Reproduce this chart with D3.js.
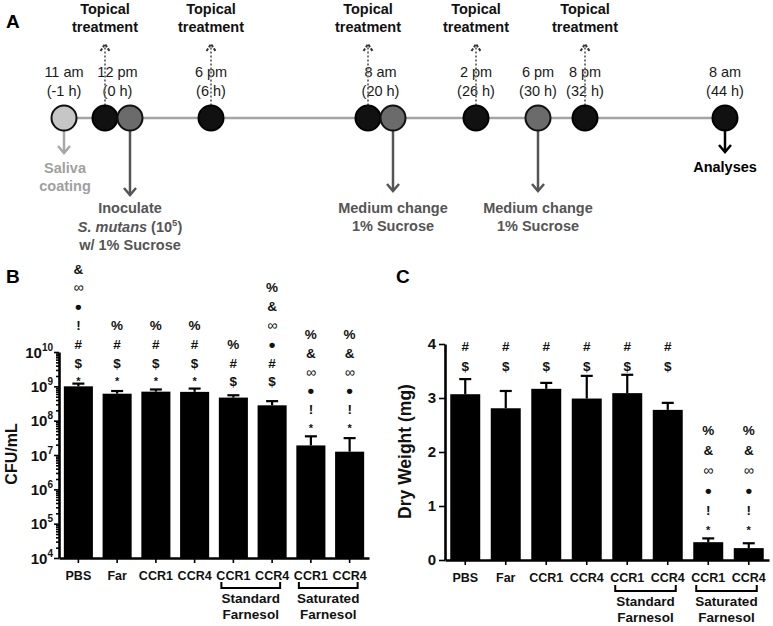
<!DOCTYPE html>
<html><head><meta charset="utf-8">
<script src="https://cdn.jsdelivr.net/npm/d3@7"></script>
<style>
body{margin:0;background:#fff}
svg{display:block}
text{font-family:"Liberation Sans",Arial,Helvetica,sans-serif}
</style>
</head><body>
<svg id="chart" width="773" height="626"></svg>
<script>
// ---------------- DATA ----------------
const categories = ["PBS","Far","CCR1","CCR4","CCR1","CCR4","CCR1","CCR4"];
const groupLabels = [["Standard","Farnesol"],["Saturated","Farnesol"]];
const groupMembers = [[4,5],[6,7]];

const cfuMean = [1.0e9, 6.1e8, 7.0e8, 6.9e8, 4.7e8, 2.8e8, 1.9e7, 1.25e7];
const cfuUpper = [1.2e9, 7.3e8, 8.1e8, 8.6e8, 5.5e8, 3.7e8, 3.5e7, 3.1e7];
const cfuTicks = [1e4,1e5,1e6,1e7,1e8,1e9,1e10];

const dryMean = [3.07, 2.81, 3.17, 2.99, 3.09, 2.78, 0.33, 0.22];
const dryUpper = [3.35, 3.13, 3.28, 3.41, 3.43, 2.91, 0.40, 0.31];
const dryTicks = [0,1,2,3,4];

// significance symbols, listed bottom-up
const cfuMarks = [
  ["*","$","#","!","•","∞","&"],
  ["*","$","#","%"],
  ["*","$","#","%"],
  ["*","$","#","%"],
  ["$","#","%"],
  ["$","#","•","∞","&","%"],
  ["*","!","•","∞","&","%"],
  ["*","!","•","∞","&","%"]
];
const cfuMarkBase = [1e9,1e9,1e9,1e9,1e9,1e9,4.4e7,4.4e7];
const dryMarks = [
  ["$","#"],["$","#"],["$","#"],["$","#"],["$","#"],["$","#"],
  ["*","!","•","∞","&","%"],
  ["*","!","•","∞","&","%"]
];
const dryMarkBase = [3.5,3.5,3.5,3.5,3.5,3.5,0.46,0.46];

// timeline (schematic)
const timeHours   = [-1, 0, 6, 20, 26, 30, 32, 44];
const clockLabels = ["11 am","12 pm","6 pm","8 am","2 pm","6 pm","8 pm","8 am"];
const relLabels   = ["(-1 h)","(0 h)","(6 h)","(20 h)","(26 h)","(30 h)","(32 h)","(44 h)"];
const timelineX   = [64, 105, 211, 368, 476, 538, 585, 725];
const treatmentHours = [0, 6, 20, 26, 32];
const salivaHours = [-1];
const mediumHours = [0, 20, 30];     // grey circles (medium / inoculation)
const analysisHours = [44];

// ---------------- DRAW ----------------
const svg = d3.select("#chart");
const FONT = '"Liberation Sans",Arial,sans-serif';

// ===== Panel A =====
const tx = d3.scaleLinear().domain(timeHours).range(timelineX);
const R = 12.5, lineY = 118;
const pairHours = mediumHours.filter(h => treatmentHours.includes(h) || analysisHours.includes(h));
const gx = h => tx(h) + (pairHours.includes(h) ? 2*R : 0);  // grey circle x
const lx = h => tx(h) + (pairHours.includes(h) ? R : 0);     // label x

const A = svg.append("g");
A.append("text").attr("x",6).attr("y",28).attr("font-size",19).attr("font-weight","bold").text("A");

A.append("line").attr("x1",tx(timeHours[0])).attr("x2",tx(timeHours[timeHours.length-1]))
  .attr("y1",lineY).attr("y2",lineY).attr("stroke","#a4a4a4").attr("stroke-width",2.3);

// time labels
timeHours.forEach((h,i)=>{
  A.append("text").attr("x",lx(h)).attr("y",77).attr("text-anchor","middle")
    .attr("font-size",14.5).attr("fill","#1a1a1a").text(clockLabels[i]);
  A.append("text").attr("x",lx(h)).attr("y",95.5).attr("text-anchor","middle")
    .attr("font-size",14.5).attr("fill","#1a1a1a").text(relLabels[i]);
});

// topical treatment dotted arrows
treatmentHours.forEach(h=>{
  const x = tx(h);
  A.append("text").attr("x",x).attr("y",13.5).attr("text-anchor","middle")
    .attr("font-size",14.5).attr("font-weight","bold").attr("fill","#111").text("Topical");
  A.append("text").attr("x",x).attr("y",32).attr("text-anchor","middle")
    .attr("font-size",14.5).attr("font-weight","bold").attr("fill","#111").text("treatment");
  A.append("line").attr("x1",x).attr("x2",x).attr("y1",lineY-R).attr("y2",46)
    .attr("stroke","#777").attr("stroke-width",2).attr("stroke-dasharray","2,2");
  A.append("path").attr("d",`M${x-4.5},51L${x},44L${x+4.5},51`)
    .attr("fill","none").attr("stroke","#333").attr("stroke-width",2).attr("stroke-dasharray","3,1.5");
});

function downArrow(x, y2, color){
  A.append("line").attr("x1",x).attr("x2",x).attr("y1",lineY+R).attr("y2",y2)
    .attr("stroke",color).attr("stroke-width",2.5);
  A.append("path").attr("d",`M${x-6},${y2-7}L${x},${y2}L${x+6},${y2-7}`)
    .attr("fill","none").attr("stroke",color).attr("stroke-width",2.5);
}
// saliva
salivaHours.forEach(h=>{
  downArrow(tx(h),153,"#a8a8a8");
  [["Saliva",173],["coating",191]].forEach(([t,y])=>
    A.append("text").attr("x",tx(h)+1).attr("y",y).attr("text-anchor","middle")
      .attr("font-size",14.5).attr("font-weight","bold").attr("fill","#a0a0a0").text(t));
});
// medium changes / inoculation
mediumHours.forEach((h,i)=>{
  const x = gx(h);
  if(i===0){
    downArrow(x,195,"#555");
    A.append("text").attr("x",x).attr("y",213).attr("text-anchor","middle")
      .attr("font-size",14.5).attr("font-weight","bold").attr("fill","#555").text("Inoculate");
    const t = A.append("text").attr("x",x).attr("y",232).attr("text-anchor","middle")
      .attr("font-size",14.5).attr("font-weight","bold").attr("fill","#555");
    t.append("tspan").attr("font-style","italic").text("S. mutans");
    t.append("tspan").text(" (10");
    t.append("tspan").attr("font-size",9.5).attr("dy",-6).text("5");
    t.append("tspan").attr("dy",6).text(")");
    A.append("text").attr("x",x).attr("y",250).attr("text-anchor","middle")
      .attr("font-size",14.5).attr("font-weight","bold").attr("fill","#555").text("w/ 1% Sucrose");
  } else {
    downArrow(x,191,"#555");
    A.append("text").attr("x",x).attr("y",213).attr("text-anchor","middle")
      .attr("font-size",14.5).attr("font-weight","bold").attr("fill","#555").text("Medium change");
    A.append("text").attr("x",x).attr("y",231).attr("text-anchor","middle")
      .attr("font-size",14.5).attr("font-weight","bold").attr("fill","#555").text("1% Sucrose");
  }
});
// analyses
analysisHours.forEach(h=>{
  downArrow(tx(h),152,"#000");
  A.append("text").attr("x",tx(h)).attr("y",172).attr("text-anchor","middle")
    .attr("font-size",14.5).attr("font-weight","bold").attr("fill","#000").text("Analyses");
});
// circles
salivaHours.forEach(h=> A.append("circle").attr("cx",tx(h)).attr("cy",lineY).attr("r",R)
  .attr("fill","#c6c6c6").attr("stroke","#111").attr("stroke-width",2));
[...treatmentHours, ...analysisHours].forEach(h=> A.append("circle").attr("cx",tx(h)).attr("cy",lineY).attr("r",R)
  .attr("fill","#111").attr("stroke","#000").attr("stroke-width",2));
mediumHours.forEach(h=> A.append("circle").attr("cx",gx(h)).attr("cy",lineY).attr("r",R)
  .attr("fill","#6b6b6b").attr("stroke","#111").attr("stroke-width",2));

// ===== Bar panels =====
function barPanel(opt){
  const g = svg.append("g");
  const x = d3.scaleBand().domain(d3.range(categories.length)).range(opt.xr)
    .paddingInner(opt.pad).paddingOuter(opt.pad/2);
  const y = opt.y;
  const y0 = opt.yr[0];

  g.append("text").attr("x",opt.letterX).attr("y",283).attr("font-size",19)
    .attr("font-weight","bold").text(opt.letter);

  // bars
  g.selectAll("rect.bar").data(opt.mean).join("rect")
    .attr("x",(d,i)=>x(i)).attr("width",x.bandwidth())
    .attr("y",d=>y(d)).attr("height",d=>y0-y(d)).attr("fill","#000");
  // error bars
  opt.upper.forEach((u,i)=>{
    const cx = x(i)+x.bandwidth()/2;
    g.append("line").attr("x1",cx).attr("x2",cx).attr("y1",y(opt.mean[i])).attr("y2",y(u))
      .attr("stroke","#000").attr("stroke-width",2.2);
    g.append("line").attr("x1",cx-6).attr("x2",cx+6).attr("y1",y(u)).attr("y2",y(u))
      .attr("stroke","#000").attr("stroke-width",2.2);
  });
  // marks
  opt.marks.forEach((arr,i)=>{
    const cx = x(i)+x.bandwidth()/2;
    const by = y(opt.base[i]);
    arr.forEach((s,k)=>{
      const t = g.append("text").attr("x",cx).attr("y",by - k*opt.pitch)
        .attr("text-anchor","middle").attr("fill","#111");
      if(s==="*") t.attr("font-size",11).attr("font-weight","bold").attr("dy",-1);
      else if(s==="∞") t.attr("font-size",14).attr("font-weight","normal");
      else if(s==="•") t.attr("font-size",19).attr("font-weight","bold").attr("dy",2);
      else t.attr("font-size",13.5).attr("font-weight","bold");
      t.text(s);
    });
  });

  // y axis
  const ax = g.append("g").attr("transform",`translate(${opt.xr[0]},0)`);
  opt.drawY(ax);
  ax.selectAll("path.domain").attr("stroke","#000").attr("stroke-width",2.6);
  ax.selectAll(".tick line").attr("stroke","#000").attr("stroke-width",1.6);

  // x axis
  const xa = g.append("g").attr("transform",`translate(0,${y0})`)
    .call(d3.axisBottom(x).tickSize(5).tickSizeOuter(0).tickPadding(8).tickFormat(i=>categories[i]));
  xa.selectAll("path.domain").attr("stroke","#000").attr("stroke-width",2.6);
  xa.selectAll(".tick line").attr("stroke","#000").attr("stroke-width",1.6);
  xa.selectAll(".tick text").attr("font-family",FONT).attr("font-size",12.5)
    .attr("font-weight","bold").attr("fill","#111");

  // group brackets
  groupMembers.forEach((m,gi)=>{
    const x1 = x(m[0])+x.bandwidth()/2 - 12;
    const x2 = x(m[1])+x.bandwidth()/2 + 8;
    const by = opt.bracketY;
    g.append("path").attr("d",`M${x1},${by-6}V${by}H${x2}V${by-6}`)
      .attr("fill","none").attr("stroke","#000").attr("stroke-width",2);
    groupLabels[gi].forEach((t,k)=>
      g.append("text").attr("x",(x1+x2)/2).attr("y",by+14.5+k*16).attr("text-anchor","middle")
        .attr("font-size",13.5).attr("font-weight","bold").attr("fill","#111").text(t));
  });

  // y label
  g.append("text").attr("transform",`translate(${opt.ylabX},${opt.ylabY}) rotate(-90)`)
    .attr("text-anchor","middle").attr("font-size",opt.ylabSize).attr("font-weight","bold")
    .attr("fill","#111").text(opt.ylab);
}

// Panel B
const yB = d3.scaleLog().domain([1e4,1e10]).range([558,352]);
const minorB = [];
for(let e=4;e<10;e++) for(let m=2;m<10;m++) minorB.push(m*Math.pow(10,e));
barPanel({
  letter:"B", letterX:6, xr:[59,369], pad:0.25, y:yB, yr:[558,352],
  mean:cfuMean, upper:cfuUpper, marks:cfuMarks, base:cfuMarkBase, pitch:18.8,
  bracketY:588, ylab:"CFU/mL", ylabX:16.5, ylabY:454, ylabSize:16,
  drawY: ax=>{
    const mn = ax.append("g")
      .call(d3.axisLeft(yB).tickValues(minorB).tickSize(3).tickSizeOuter(0).tickFormat(""));
    mn.select("path.domain").remove();
    ax.append("g")
      .call(d3.axisLeft(yB).tickValues(cfuTicks).tickSize(5).tickSizeOuter(0).tickFormat(""));
    cfuTicks.forEach(v=>{
      const t = ax.append("text").attr("x",-6).attr("y",yB(v)+5.5).attr("text-anchor","end")
        .attr("font-size",15).attr("font-weight","bold").attr("fill","#111");
      t.append("tspan").text("10");
      t.append("tspan").attr("font-size",10).attr("dy",-7).text(String(Math.round(Math.log10(v))));
    });
  }
});

// Panel C
const yC = d3.scaleLinear().domain([0,4]).range([560,344]);
barPanel({
  letter:"C", letterX:396, xr:[445,769], pad:0.26, y:yC, yr:[560,344],
  mean:dryMean, upper:dryUpper, marks:dryMarks, base:dryMarkBase, pitch:20,
  bracketY:591, ylab:"Dry Weight (mg)", ylabX:411, ylabY:451.5, ylabSize:17.5,
  drawY: ax=>{
    ax.append("g")
      .call(d3.axisLeft(yC).tickValues(dryTicks).tickSize(6).tickSizeOuter(0).tickPadding(3)
      .tickFormat(d3.format("d")));
    ax.selectAll(".tick text").attr("font-family",FONT).attr("font-size",15)
      .attr("font-weight","bold").attr("fill","#111");
  }
});
</script>
</body></html>
